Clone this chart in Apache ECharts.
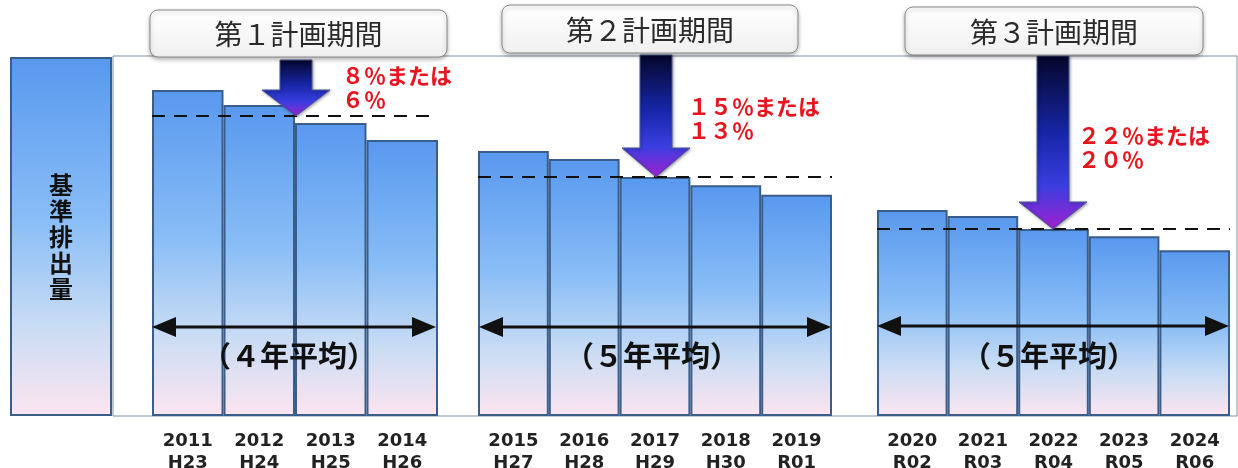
<!DOCTYPE html>
<html><head><meta charset="utf-8">
<script src="https://cdn.jsdelivr.net/npm/echarts@6/dist/echarts.min.js"></script>
<style>html,body{margin:0;padding:0;background:#fff}#c{width:1238px;height:468px}</style>
</head><body><div id="c"></div>
<script>
// ---- data ----
const baseLabel = ['基準排出量'];
const baseValue = [100];
const years1 = ['2011','2012','2013','2014'];
const eras1 = ['H23','H24','H25','H26'];
const values1 = [90.8, 86.6, 81.6, 76.9];
const years2 = ['2015','2016','2017','2018','2019'];
const eras2 = ['H27','H28','H29','H30','R01'];
const values2 = [73.8, 71.6, 66.6, 64.3, 61.6];
const years3 = ['2020','2021','2022','2023','2024'];
const eras3 = ['R02','R03','R04','R05','R06'];
const values3 = [57.4, 55.7, 52.1, 50.1, 46.2];
const targets = [83.6, 66.6, 52.1];
const periodTitles = ['第１計画期間','第２計画期間','第３計画期間'];
const reductionLabels = [['８％または','６％'], ['１５％または','１３％'], ['２２％または','２０％']];
const averageLabels = ['（４年平均）','（５年平均）','（５年平均）'];

// ---- layout ----
const JP = '"Noto Sans CJK JP", "Noto Sans", sans-serif';
const TOP = 57, BOTTOM = 52;
const grids = [
  {left: 10, width: 102},
  {left: 152, width: 286},
  {left: 478, width: 354},
  {left: 877, width: 353}
];
const barFill = () => new echarts.graphic.LinearGradient(0, 0, 0, 1, [
  {offset: 0, color: '#5898ee'},
  {offset: 0.45, color: '#88bdf6'},
  {offset: 0.75, color: '#c9dcf4'},
  {offset: 1, color: '#fde5f0'}
]);
const groups = [
  {years: years1, eras: eras1, values: values1},
  {years: years2, eras: eras2, values: values2},
  {years: years3, eras: eras3, values: values3}
];

const chart = echarts.init(document.getElementById('c'));
const option = {
  animation: false,
  grid: grids.map(g => ({left: g.left, width: g.width, top: TOP, bottom: BOTTOM, containLabel: false, outerBoundsMode: 'none'})),
  xAxis: [
    {type: 'category', gridIndex: 0, data: baseLabel, axisLine: {show: false}, axisTick: {show: false}, axisLabel: {show: false}}
  ].concat(groups.map((g, k) => ({
    type: 'category', gridIndex: k + 1, data: g.years,
    axisLine: {show: false}, axisTick: {show: false},
    axisLabel: {
      margin: 14, fontSize: 18, fontWeight: 'bold', color: '#222', lineHeight: 22,
      fontFamily: '"DejaVu Sans", sans-serif',
      formatter: (v, i) => v + '\n' + g.eras[i]
    }
  }))),
  yAxis: grids.map((g, k) => ({type: 'value', gridIndex: k, min: 0, max: 100, show: false, splitLine: {show: false}})),
  series: [
    {
      type: 'bar', xAxisIndex: 0, yAxisIndex: 0, data: baseValue, barWidth: '100%',
      itemStyle: {color: barFill(), borderColor: '#3b5d8a', borderWidth: 2},
      label: {show: true, position: 'inside', formatter: () => baseLabel[0].split('').join('\n'),
        fontSize: 24, fontWeight: 'bold', color: '#111', lineHeight: 26, fontFamily: JP}
    }
  ].concat(groups.map((g, k) => ({
    type: 'bar', xAxisIndex: k + 1, yAxisIndex: k + 1, data: g.values, barCategoryGap: '0%',
    itemStyle: {color: barFill(), borderColor: '#3b5d8a', borderWidth: 2},
    markLine: {
      silent: true, symbol: 'none', z: 5,
      lineStyle: {type: [13, 9], color: '#111', width: 2},
      label: {show: false},
      data: [{yAxis: targets[k]}]
    }
  })))
};
chart.setOption(option);

// ---- graphics (positions derived from axes) ----
const tipY = targets.map((t, k) => chart.convertToPixel({yAxisIndex: k + 1}, t));
const arrows = [
  {cx: 296, top: 60, head: 90},
  {cx: 656, top: 55, head: 148},
  {cx: 1053, top: 56, head: 202}
];
const boxes = [
  {x: 150, y: 10, w: 297, h: 47},
  {x: 502, y: 5, w: 296, h: 48},
  {x: 905, y: 7, w: 298, h: 48}
];
const redPos = [{x: 342, y: 76}, {x: 688, y: 107}, {x: 1078, y: 136}];
const avgCenter = [289, 652, 1049];
const hArrows = [{x1: 152, x2: 436, y: 327}, {x1: 479, x2: 831, y: 327}, {x1: 877, x2: 1229, y: 326}];

const gfx = [];
gfx.push({type: 'rect', z: 0, shape: {x: 113, y: 56, width: 1124, height: 360},
  style: {fill: 'none', stroke: '#8090a0', lineWidth: 1}});
boxes.forEach((b, k) => {
  gfx.push({type: 'rect', z: 20, shape: {x: b.x, y: b.y, width: b.w, height: b.h, r: 8},
    style: {fill: new echarts.graphic.LinearGradient(0, 0, 0, 1, [{offset: 0, color: '#ffffff'}, {offset: 1, color: '#f0f0f0'}]),
      stroke: '#8a8a8a', lineWidth: 1, shadowBlur: 4, shadowOffsetY: 2, shadowColor: 'rgba(0,0,0,0.3)'}});
  gfx.push({type: 'text', z: 21, x: b.x + b.w / 2, y: b.y + b.h / 2 + 1,
    style: {text: periodTitles[k], fill: '#2a2a2a', font: '28px ' + JP, textAlign: 'center', textVerticalAlign: 'middle'}});
});
arrows.forEach((a, k) => {
  const t = tipY[k], sw = 16, hw = 34;
  gfx.push({type: 'polygon', z: 15,
    shape: {points: [[a.cx - sw, a.top], [a.cx + sw, a.top], [a.cx + sw, a.head], [a.cx + hw, a.head], [a.cx, t], [a.cx - hw, a.head], [a.cx - sw, a.head]]},
    style: {fill: new echarts.graphic.LinearGradient(0, 0, 0, 1, [
      {offset: 0, color: '#06062a'}, {offset: 0.45, color: '#1626a8'}, {offset: 0.75, color: '#3b3ee0'}, {offset: 1, color: '#a020d0'}]),
      stroke: '#4a5a9a', lineWidth: 1, shadowBlur: 3, shadowColor: 'rgba(0,0,0,0.35)', shadowOffsetX: 1, shadowOffsetY: 1}});
  reductionLabels[k].forEach((line, j) => {
    gfx.push({type: 'text', z: 16, x: redPos[k].x, y: redPos[k].y + j * 24,
      style: {text: line, fill: '#e8141e', font: 'bold 22px ' + JP, textAlign: 'left', textVerticalAlign: 'middle'}});
  });
});
hArrows.forEach((h, k) => {
  const al = 24, ah = 10;
  gfx.push({type: 'line', z: 15, shape: {x1: h.x1 + al - 2, y1: h.y, x2: h.x2 - al + 2, y2: h.y}, style: {stroke: '#111', lineWidth: 3}});
  gfx.push({type: 'polygon', z: 15, shape: {points: [[h.x1, h.y], [h.x1 + al, h.y - ah], [h.x1 + al, h.y + ah]]}, style: {fill: '#111'}});
  gfx.push({type: 'polygon', z: 15, shape: {points: [[h.x2, h.y], [h.x2 - al, h.y - ah], [h.x2 - al, h.y + ah]]}, style: {fill: '#111'}});
  gfx.push({type: 'text', z: 16, x: avgCenter[k], y: 356,
    style: {text: averageLabels[k], fill: '#111', font: 'bold 29px ' + JP, textAlign: 'center', textVerticalAlign: 'middle'}});
});
chart.setOption({graphic: {elements: gfx}});
</script></body></html>
